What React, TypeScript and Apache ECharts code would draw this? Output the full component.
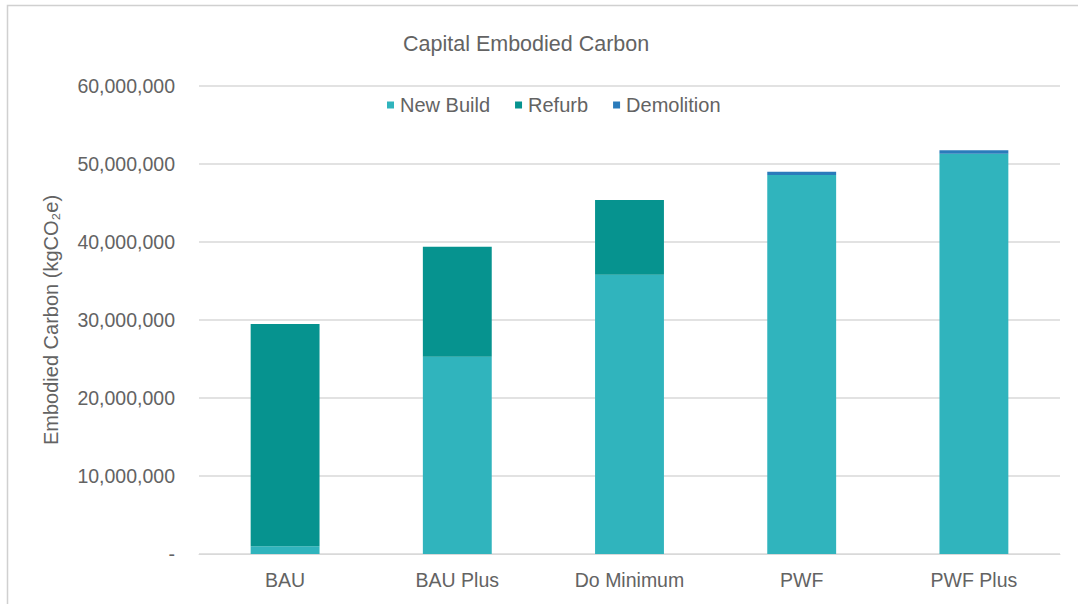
import React, { useEffect, useRef } from "react";
import * as echarts from "echarts";

const categories = ["BAU", "BAU Plus", "Do Minimum", "PWF", "PWF Plus"];
const newBuild = [1000000, 25300000, 35800000, 48600000, 51300000];
const refurb = [28500000, 14100000, 9600000, 0, 0];
const demolition = [0, 0, 0, 400000, 450000];
const yTicks = { min: 0, max: 60000000, interval: 10000000 };

const FONT = "'Liberation Sans', Arial, sans-serif";
const TEXT = "#636363";

export default function App() {
  const ref = useRef<HTMLDivElement>(null);

  useEffect(() => {
    if (!ref.current) return;
    const chart = echarts.init(ref.current, undefined, { renderer: "svg" });
    chart.setOption({
      animation: false,
      backgroundColor: "#ffffff",
      title: {
        text: "Capital Embodied Carbon",
        left: 398,
        top: 28,
        textStyle: { fontFamily: FONT, fontSize: 21.5, fontWeight: "normal", color: TEXT },
      },
      legend: {
        top: 90,
        left: 382,
        itemWidth: 7,
        itemHeight: 7,
        itemGap: 25,
        icon: "rect",
        textStyle: { fontFamily: FONT, fontSize: 20, color: TEXT, padding: [0, 0, 0, 1] },
        data: ["New Build", "Refurb", "Demolition"],
      },
      grid: { left: 199, right: 18, top: 86, bottom: 50, containLabel: false },
      xAxis: {
        type: "category",
        data: categories,
        axisLine: { lineStyle: { color: "#d9d9d9", width: 1 } },
        axisTick: { show: false },
        axisLabel: { fontFamily: FONT, fontSize: 19.5, color: TEXT, margin: 16 },
      },
      yAxis: {
        type: "value",
        min: yTicks.min,
        max: yTicks.max,
        interval: yTicks.interval,
        name: "Embodied Carbon (kgCO\u2082e)",
        nameLocation: "middle",
        nameGap: 138,
        nameTextStyle: { fontFamily: FONT, fontSize: 20, color: TEXT },
        axisLine: { show: false },
        axisTick: { show: false },
        splitLine: { lineStyle: { color: "#d9d9d9", width: 1.5 } },
        axisLabel: {
          fontFamily: FONT,
          fontSize: 19.5,
          color: TEXT,
          margin: 24,
          formatter: (v: number) => (v === 0 ? "-" : v.toLocaleString("en-US")),
        },
      },
      series: [
        { name: "New Build", type: "bar", stack: "c", data: newBuild, barWidth: "40%", itemStyle: { color: "#30b4bd" } },
        { name: "Refurb", type: "bar", stack: "c", data: refurb, barWidth: "40%", itemStyle: { color: "#06938f" } },
        { name: "Demolition", type: "bar", stack: "c", data: demolition, barWidth: "40%", itemStyle: { color: "#2a7bbb" } },
      ],
      graphic: [
        {
          type: "rect",
          shape: { x: 7.5, y: 5.5, width: 1100, height: 700 },
          style: { fill: "none", stroke: "#d0d0d0", lineWidth: 1.5 },
          silent: true,
        },
      ],
    });
    return () => chart.dispose();
  }, []);

  return (
    <div
      ref={ref}
      style={{ position: "fixed", left: 0, top: 0, width: 1078, height: 604 }}
    />
  );
}
